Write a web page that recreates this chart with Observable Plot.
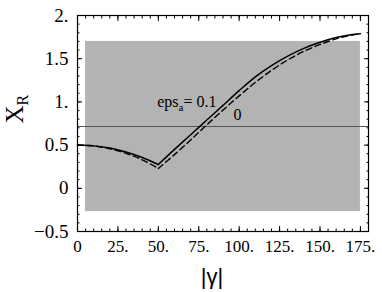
<!DOCTYPE html>
<html><head><meta charset="utf-8">
<script src="https://cdn.jsdelivr.net/npm/d3@7"></script>
<script src="https://cdn.jsdelivr.net/npm/@observablehq/plot@0.6"></script>
<style>body{margin:0;background:#fff} svg{display:block}</style>
</head><body><div id="chart"></div>
<script>
// |gamma| sample points
const gammaX   = [0, 10, 20, 30, 40, 50, 60, 70, 80, 90, 100, 110, 120, 130, 140, 150, 160, 170, 175];
// X_R for eps_a = 0.1 (solid)
const xrEps01  = [0.5, 0.491, 0.466, 0.42, 0.356, 0.275, 0.45, 0.62, 0.79, 0.96, 1.13, 1.29, 1.42, 1.53, 1.62, 1.69, 1.745, 1.78, 1.79];
// X_R for eps_a = 0 (dashed)
const xrEps0   = [0.5, 0.49, 0.458, 0.405, 0.33, 0.23, 0.39, 0.56, 0.735, 0.905, 1.07, 1.225, 1.365, 1.485, 1.585, 1.665, 1.73, 1.775, 1.79];
// branch break (kink) of both curves
const kinkAt = 50;
// shaded region and reference level
const bandX = [5, 175];
const bandY = [-0.27, 1.7];
const refLevel = [0.715];
// ticks
const xTicks = [0, 25, 50, 75, 100, 125, 150, 175];
const yTicks = [-0.5, 0, 0.5, 1, 1.5, 2];
const xMinor = d3.range(0, 181, 5);
const yMinor = d3.range(-5, 21, 1).map(d => d / 10);

function branches(vals) {
  const out = [];
  gammaX.forEach((g, i) => {
    if (g <= kinkAt) out.push({g, v: vals[i], b: "left"});
    if (g >= kinkAt) out.push({g, v: vals[i], b: "right"});
  });
  return out;
}
const solid = branches(xrEps01);
const dashed = branches(xrEps0);
const band = [{x1: bandX[0], x2: bandX[1], y1: bandY[0], y2: bandY[1]}];

const fmtX = d => d === 0 ? "0" : d + ".";
const fmtY = d => d === 0 ? "0" : (Number.isInteger(d) ? d + "." : String(d)).replace("-", "\u2212");
const none = () => "";
const serif = "Liberation Serif";

const chart = Plot.plot({
  width: 382, height: 292,
  marginLeft: 77, marginRight: 14, marginTop: 15, marginBottom: 61,
  x: {domain: [0, 180]},
  y: {domain: [-0.5, 2]},
  style: {fontFamily: "'Liberation Serif'", fontSize: "17px", background: "white", color: "black"},
  marks: [
    Plot.rect(band, {x1: "x1", x2: "x2", y1: "y1", y2: "y2", fill: "#b3b3b3"}),
    Plot.ruleY(refLevel, {stroke: "#555", strokeWidth: 1.2}),
    Plot.line(dashed, {x: "g", y: "v", z: "b", stroke: "black", strokeWidth: 1.4, strokeDasharray: "6,3.5", curve: "catmull-rom"}),
    Plot.line(solid, {x: "g", y: "v", z: "b", stroke: "black", strokeWidth: 1.5, curve: "catmull-rom"}),
    Plot.text(["eps_a = 0.1"], {x: 49.3, y: 1.0, textAnchor: "start", fontSize: 16}),
    Plot.text(["0"], {x: 99, y: 0.85, fontSize: 16}),
    Plot.frame({stroke: "black", strokeWidth: 1.2}),
    // minor ticks (inward)
    Plot.axisX(xMinor, {anchor: "bottom", tickSize: -2.5, tickFormat: none, label: null}),
    Plot.axisX(xMinor, {anchor: "top", tickSize: -2.5, tickFormat: none, label: null}),
    Plot.axisY(yMinor, {anchor: "left", tickSize: -2.5, tickFormat: none, label: null}),
    Plot.axisY(yMinor, {anchor: "right", tickSize: -2.5, tickFormat: none, label: null}),
    // major ticks (inward)
    Plot.axisX(xTicks, {anchor: "bottom", tickSize: -5, tickFormat: none, label: null}),
    Plot.axisX(xTicks, {anchor: "top", tickSize: -5, tickFormat: none, label: null}),
    Plot.axisY(yTicks, {anchor: "left", tickSize: -5, tickFormat: none, label: null}),
    Plot.axisY(yTicks, {anchor: "right", tickSize: -5, tickFormat: none, label: null}),
    // labels
    Plot.axisX(xTicks, {anchor: "bottom", tickSize: 0, tickPadding: 8, tickFormat: fmtX, label: null, fontSize: 17}),
    Plot.axisY(yTicks, {anchor: "left", tickSize: 0, tickPadding: 9, tickFormat: fmtY, label: null, fontSize: 19}),
    // axis titles
    Plot.text(["X_R"], {frameAnchor: "left", dx: -63, rotate: -90, fontSize: 25}),
    Plot.text(["|\u03b3|"], {frameAnchor: "bottom", dx: -11, dy: 52, fontSize: 22})
  ]
});

const NS = "http://www.w3.org/2000/svg";
function sub(t, base, subText, rest, shift, subSize) {
  t.textContent = "";
  const a = document.createElementNS(NS, "tspan"); a.textContent = base; t.appendChild(a);
  const b = document.createElementNS(NS, "tspan"); b.textContent = subText;
  b.setAttribute("dy", shift); b.setAttribute("font-size", subSize); t.appendChild(b);
  if (rest) {
    const c = document.createElementNS(NS, "tspan"); c.textContent = rest;
    c.setAttribute("dy", -shift); t.appendChild(c);
  }
}
chart.setAttribute("font-family", serif);
chart.querySelectorAll("g").forEach(g => {
  g.removeAttribute("font-variant");
  if (g.hasAttribute("font-family")) g.setAttribute("font-family", serif);
});
chart.querySelectorAll("text").forEach(t => {
  t.setAttribute("font-family", serif);
  t.style.setProperty("font-family", "'Liberation Serif'", "important");
  if (t.textContent === "eps_a = 0.1") sub(t, "eps", "a", "= 0.1", 4, 11);
  else if (t.textContent === "X_R") sub(t, "X", "R", null, 5, 16);
  else if (t.textContent === "|\u03b3|") t.style.setProperty("font-family", "'Liberation Sans'", "important");
});
document.getElementById("chart").appendChild(chart);
</script>
</body></html>
